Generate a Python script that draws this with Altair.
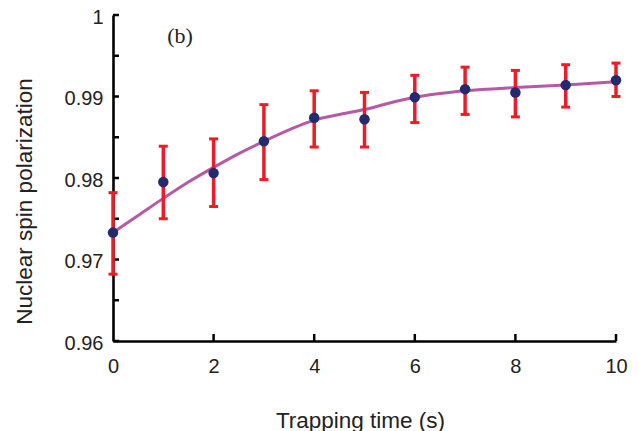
import altair as alt
import pandas as pd

# Measured data
times = [0, 1, 2, 3, 4, 5, 6, 7, 8, 9, 10]
polarization = [0.9733, 0.9795, 0.9806, 0.9845, 0.9874, 0.9872, 0.9899, 0.9909, 0.9905, 0.9914, 0.9920]
err_upper = [0.9782, 0.9839, 0.9848, 0.9890, 0.9907, 0.9905, 0.9926, 0.9936, 0.9932, 0.9939, 0.9941]
err_lower = [0.9682, 0.9750, 0.9765, 0.9798, 0.9838, 0.9838, 0.9868, 0.9878, 0.9875, 0.9887, 0.9900]

# Fitted curve
fit_t = [0, 0.5, 1, 1.5, 2, 2.5, 3, 3.5, 4, 4.5, 5, 5.5, 6, 7, 8, 9, 10]
fit_p = [0.9733, 0.9754, 0.9775, 0.9795, 0.9813, 0.9830, 0.9845, 0.9859, 0.9871, 0.9878,
         0.9884, 0.9892, 0.9899, 0.9907, 0.9911, 0.9914, 0.9918]

y_major = [0.96, 0.97, 0.98, 0.99, 1.0]
y_minor = [0.965, 0.975, 0.985, 0.995]
x_ticks = [2, 4, 6, 8, 10]

panel_label = "(b)"
x_title = "Trapping time (s)"
y_title = "Nuclear spin polarization"

pts = pd.DataFrame({"t": times, "p": polarization, "hi": err_upper, "lo": err_lower})
fit = pd.DataFrame({"t": fit_t, "p": fit_p})
yt = pd.DataFrame({"v": y_major + y_minor})
xt = pd.DataFrame({"v": x_ticks})

FONT = "Liberation Sans"
xscale = alt.Scale(domain=[0, 10], nice=False, zero=False)
yscale = alt.Scale(domain=[0.96, 1.0], nice=False, zero=False)

xaxis = alt.Axis(values=[0, 2, 4, 6, 8, 10], ticks=False, tickSize=0, grid=False,
                 domainColor="black", domainWidth=2.6, labelFont=FONT, labelFontSize=20,
                 labelColor="#222", labelPadding=15, title=x_title, titleFont=FONT,
                 titleFontSize=22.5, titleFontWeight="normal", titleColor="#222",
                 titleX=247, titleY=86, titleBaseline="alphabetic", titleAlign="center",
                 labelFlush=False)
yaxis = alt.Axis(values=y_major, ticks=False, tickSize=0, grid=False, format=".2~f",
                 domainColor="black", domainWidth=2.6, labelFont=FONT, labelFontSize=20,
                 labelColor="#222", labelPadding=10, labelOffset=2, title=y_title, titleFont=FONT,
                 titleFontSize=22.5, titleFontWeight="normal", titleColor="#222",
                 titleX=-89, titleY=186, titleAngle=270, titleBaseline="middle",
                 titleAlign="center", labelFlush=False)

ytick_layer = alt.Chart(yt).mark_rule(color="black", strokeWidth=2.5).encode(
    x=alt.value(0), x2=alt.value(6),
    y=alt.Y("v:Q", scale=yscale, axis=yaxis))
xtick_layer = alt.Chart(xt).mark_rule(color="black", strokeWidth=2.5).encode(
    x=alt.X("v:Q", scale=xscale, axis=xaxis),
    y=alt.value(326), y2=alt.value(319))

line = alt.Chart(fit).mark_line(color="#b65aa4", strokeWidth=3, interpolate="monotone").encode(
    x=alt.X("t:Q", scale=xscale), y=alt.Y("p:Q", scale=yscale))

bars = alt.Chart(pts).mark_rule(color="#ee1c25", strokeWidth=3.5).encode(
    x=alt.X("t:Q", scale=xscale), y=alt.Y("lo:Q", scale=yscale), y2="hi:Q")
cap_hi = alt.Chart(pts).mark_rule(color="#ee1c25", strokeWidth=3, xOffset=-4.5, x2Offset=4.5).encode(
    x=alt.X("t:Q", scale=xscale), x2="t:Q", y=alt.Y("hi:Q", scale=yscale))
cap_lo = alt.Chart(pts).mark_rule(color="#ee1c25", strokeWidth=3, xOffset=-4.5, x2Offset=4.5).encode(
    x=alt.X("t:Q", scale=xscale), x2="t:Q", y=alt.Y("lo:Q", scale=yscale))

dots = alt.Chart(pts).mark_circle(color="#242a6e", opacity=1, size=110).encode(
    x=alt.X("t:Q", scale=xscale), y=alt.Y("p:Q", scale=yscale))

label = alt.Chart(pd.DataFrame({"s": [panel_label]})).mark_text(
    font="Liberation Serif", fontSize=22, color="#222", align="center", baseline="middle").encode(
    x=alt.value(67), y=alt.value(21), text="s:N")

chart = alt.layer(ytick_layer, xtick_layer, line, bars, cap_hi, cap_lo, dots, label).properties(
    width=503, height=326, autosize="none",
    padding={"left": 105, "top": 7, "right": 13, "bottom": 90}
).configure_view(stroke=None)

chart.save("out.html", embed_options={"renderer": "svg", "actions": False})
